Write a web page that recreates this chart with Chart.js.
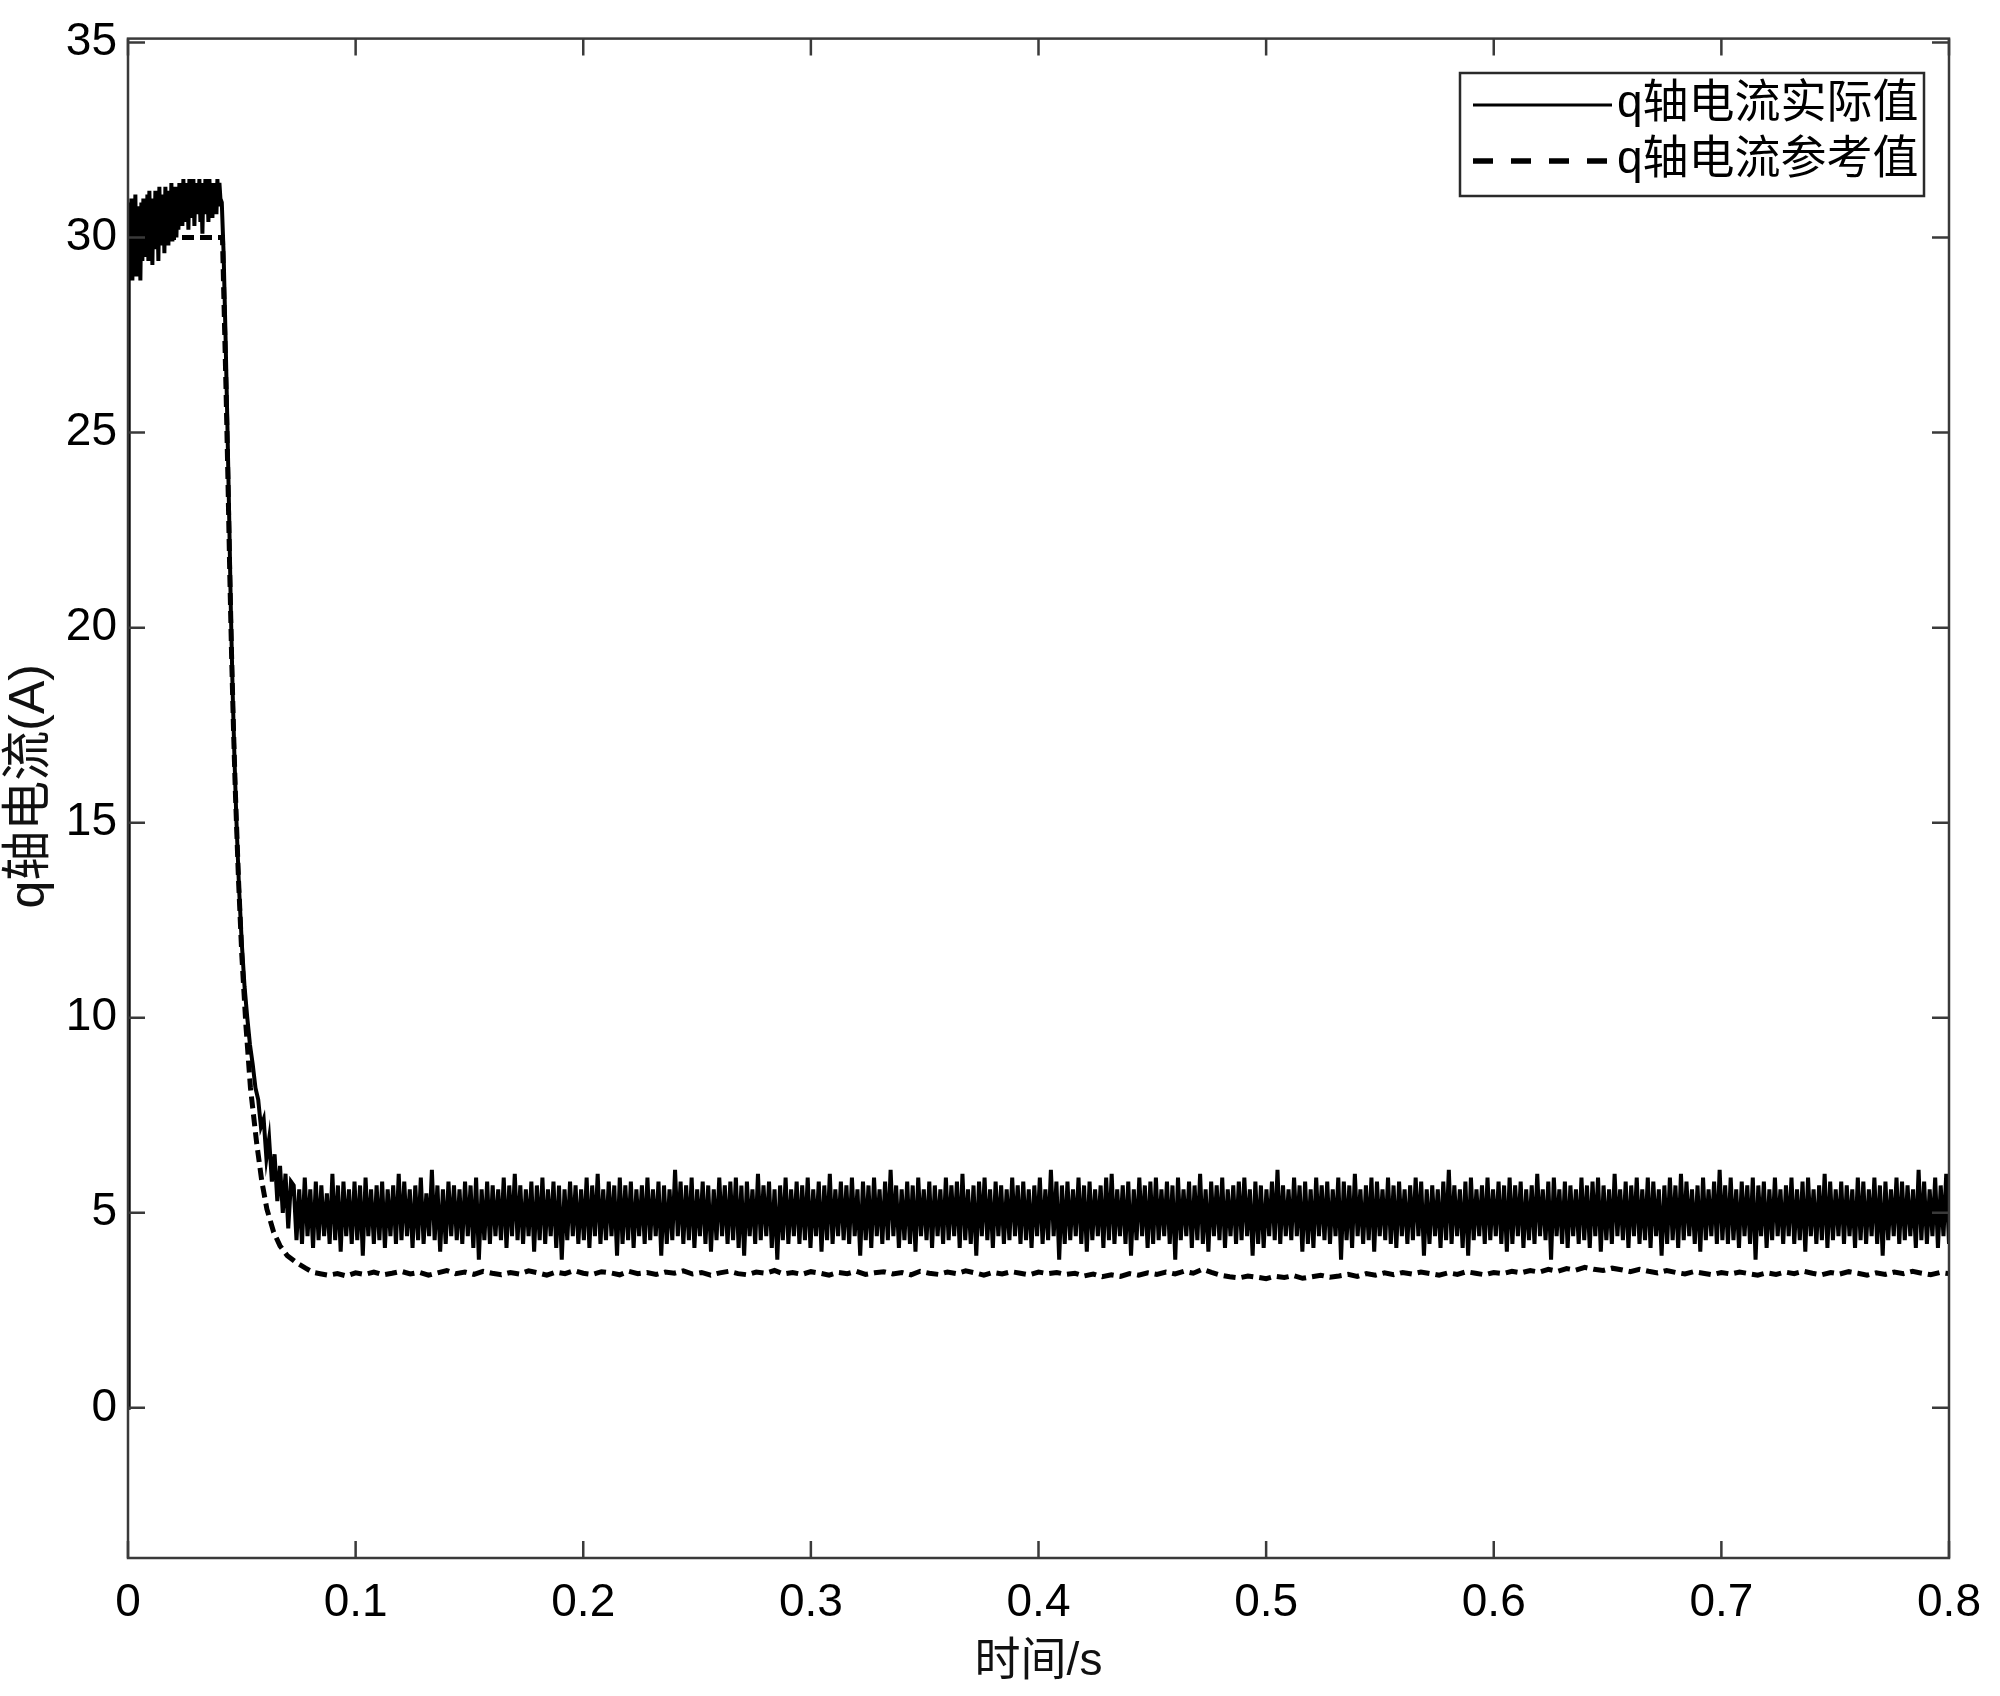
<!DOCTYPE html>
<html><head><meta charset="utf-8">
<script src="https://cdn.jsdelivr.net/npm/chart.js@4.4.1/dist/chart.umd.min.js"></script>
<style>html,body{margin:0;padding:0;background:#fff}#wrap{width:2000px;height:1696px;background:#fff}</style>
</head><body><div id="wrap"><canvas id="c" width="2000" height="1696"></canvas></div>
<script>
// ---------- tick values / labels ----------
const xTickValues = [0, 0.1, 0.2, 0.3, 0.4, 0.5, 0.6, 0.7, 0.8];
const xTickLabels = ['0', '0.1', '0.2', '0.3', '0.4', '0.5', '0.6', '0.7', '0.8'];
const yTickValues = [0, 5, 10, 15, 20, 25, 30, 35];
const yTickLabels = ['0', '5', '10', '15', '20', '25', '30', '35'];
const seriesNames = ['q轴电流实际值', 'q轴电流参考值'];
const xTitle = '时间/s';
const yTitle = 'q轴电流(A)';

// ---------- actual q-axis current (solid) ----------
const actualStartT = [0, 0.0003];
const actualStartV = [0, 29.6];
const actualPlateauRange = [0.0006, 0.0406];
const actualPlateauV = [
  30.9,29.1,31.0,28.9,30.7,29.3,31.1,29.0,30.8,29.5,30.6,28.9,30.9,29.4,31.0,29.6,
  30.8,29.5,31.1,29.4,31.2,29.8,30.9,29.3,31.0,29.7,31.2,29.9,30.8,29.4,31.3,29.8,31.1,30.0,31.0,29.6,
  31.3,30.1,30.9,29.8,31.2,30.2,31.4,29.9,31.1,30.3,31.3,30.0,31.0,30.2,31.4,30.4,
  31.2,30.3,31.5,30.4,31.3,30.6,31.4,30.2,31.5,30.5,31.2,30.7,31.5,30.3,31.4,30.6,31.3,30.8,31.5,30.4,
  31.2,30.1,31.4,30.6,31.5,30.7,31.3,30.4,31.5,30.8,31.2,30.5,31.4,30.7,31.3,30.6,31.5,30.8,31.4,31.0
];
const actualDropT = [0.0412,0.0420,0.0428,0.0436,0.0444,0.0452,0.0460,0.0468,0.0476,0.0488,0.0500,0.0512,0.0524,0.0536,0.0548,0.0560,0.0572,0.0584,0.0596,0.0608,0.0620,0.0632,0.0644,0.0656,0.0668,0.0680,0.0692,0.0704,0.0716];
const actualDropV = [30.9,29.6,27.6,25.4,23.0,20.4,18.3,16.6,15.1,13.3,11.9,10.8,10.0,9.3,8.8,8.2,7.9,7.2,7.4,6.4,6.9,5.8,6.5,5.3,6.2,5.0,6.0,4.6,5.8];
const actualSteadyRange = [0.0728, 0.8];
const actualSteadyV = [
  5.7,4.3,5.6,4.2,5.9,4.4,5.6,4.1,5.8,4.3,5.7,4.4,5.5,4.2,6.0,4.3,5.7,4.0,5.8,4.4,
  5.6,4.2,5.8,4.3,5.7,3.9,5.9,4.4,5.6,4.2,5.7,4.3,5.8,4.1,5.6,4.4,5.7,4.2,6.0,4.3,
  5.8,4.4,5.6,4.1,5.7,4.3,5.9,4.2,5.5,4.4,6.1,4.3,5.7,4.0,5.6,4.2,5.8,4.4,5.7,4.3,
  5.6,4.2,5.8,4.4,5.7,4.1,5.9,3.8,5.6,4.3,5.8,4.2,5.7,4.4,5.6,4.3,5.9,4.1,5.7,4.4,
  6.0,4.3,5.7,4.2,5.6,4.4,5.8,4.0,5.7,4.3,5.9,4.2,5.6,4.4,5.8,4.1,5.7,3.8,5.6,4.3,
  5.8,4.4,5.7,4.2,5.6,4.3,5.9,4.1,5.7,4.4,6.0,4.2,5.6,4.3,5.8,4.4,5.7,3.9,5.9,4.2,
  5.7,4.3,5.8,4.1,5.6,4.4,5.7,4.2,5.9,4.3,5.6,4.4,5.8,3.9,5.7,4.2,5.6,4.3,6.1,4.4,
  5.8,4.2,5.7,4.3,5.9,4.1,5.6,4.4,5.8,4.2,5.7,4.0,5.6,4.3,5.9,4.4,5.7,4.2,5.8,4.3,
  5.9,4.1,5.7,3.9,5.8,4.4,5.6,4.2,6.0,4.3,5.7,4.4,5.8,4.1,5.6,3.8,5.7,4.3,5.9,4.2,
  5.6,4.4,5.8,4.2,5.7,4.3,5.9,4.1,5.6,4.4,5.8,4.0,5.7,4.3,6.0,4.2,5.6,4.4,5.8,4.3,
  5.7,4.2,5.9,4.4,5.6,3.9,5.8,4.3,5.7,4.1,5.9,4.4,5.6,4.2,5.8,4.3,6.1,4.4,5.7,4.1,
  5.6,4.3,5.8,4.2,5.7,4.0,5.9,4.4,5.6,4.3,5.8,4.1,5.7,4.4,5.6,4.2,5.9,4.3,5.7,4.4,
  5.8,4.1,6.0,4.3,5.6,4.2,5.7,3.9,5.8,4.4,5.9,4.3,5.6,4.1,5.8,4.4,5.7,4.2,5.6,4.3,
  5.9,4.4,5.7,4.2,5.8,4.3,5.6,4.1,5.7,4.4,5.9,4.2,5.6,4.3,6.1,4.4,5.8,3.8,5.7,4.2,
  5.8,4.3,5.6,4.4,5.9,4.2,5.7,4.0,5.8,4.3,5.6,4.4,5.7,4.1,5.9,4.3,6.0,4.2,5.6,4.4,
  5.7,4.2,5.8,3.9,5.6,4.3,5.9,4.4,5.7,4.1,5.8,4.2,5.9,4.3,5.6,4.4,5.8,4.2,5.7,3.8,
  5.9,4.3,5.6,4.4,5.8,4.1,5.7,4.3,6.0,4.2,5.6,4.0,5.8,4.4,5.7,4.3,5.9,4.1,5.6,4.4,
  5.7,4.2,5.8,4.3,5.9,4.4,5.6,3.9,5.8,4.2,5.7,4.1,5.6,4.4,5.8,4.3,6.1,4.2,5.7,4.4,
  5.6,4.3,5.9,4.4,5.7,4.0,5.8,4.2,5.6,4.1,5.9,4.4,5.7,4.3,5.8,4.2,5.6,4.4,5.9,3.8,
  5.8,4.3,5.7,4.1,6.0,4.4,5.6,4.2,5.7,4.3,5.9,4.0,5.8,4.4,5.6,4.3,5.9,4.2,5.7,4.1,
  5.8,4.4,5.6,4.2,5.7,4.3,5.9,4.4,5.8,3.9,5.6,4.2,5.7,4.4,5.6,4.1,5.8,4.3,6.1,4.2,
  5.7,4.4,5.6,4.1,5.8,3.9,5.9,4.3,5.6,4.4,5.7,4.2,5.9,4.3,5.6,4.4,5.8,4.2,5.7,4.0,
  5.9,4.2,5.7,4.4,5.8,4.1,5.6,4.3,5.7,4.2,6.0,4.4,5.6,4.3,5.8,3.8,5.9,4.4,5.6,4.2,
  5.8,4.1,5.7,4.4,5.6,4.2,5.9,4.3,5.7,4.1,5.8,4.4,5.9,4.0,5.7,4.3,5.6,4.2,6.0,4.4,
  5.6,4.3,5.8,4.1,5.7,4.4,5.9,4.2,5.6,4.3,5.9,4.1,5.8,4.4,5.6,3.9,5.7,4.2,5.9,4.3,
  5.7,4.1,6.0,4.3,5.8,4.4,5.6,4.2,5.7,4.0,5.9,4.3,5.6,4.4,5.8,4.2,6.1,4.3,5.7,4.2,
  5.9,4.3,5.6,4.1,5.8,4.4,5.7,4.2,5.9,3.8,5.7,4.4,5.8,4.1,5.6,4.3,5.9,4.4,5.6,4.2,
  5.7,4.4,5.9,4.2,5.6,4.3,5.8,4.0,5.9,4.4,5.6,4.2,5.7,4.3,6.0,4.1,5.8,4.3,5.6,4.4,
  5.8,4.2,5.7,4.4,5.6,4.1,5.9,4.3,5.8,4.2,5.6,4.4,5.9,4.2,5.7,3.9,5.8,4.3,5.6,4.4,
  5.9,4.2,5.8,4.3,5.7,4.4,5.6,4.1,6.1,4.3,5.8,4.2,5.6,4.4,5.9,4.1,5.7,4.4,6.0,4.2
];

// ---------- reference q-axis current (dashed) ----------
const refStartT = [0, 0.0415];
const refStartV = [30, 30];
const refDropT = [0.0423,0.0431,0.0439,0.0447,0.0455,0.0463,0.0471,0.0485,0.0500,0.0518,0.0538,0.0565,0.0588,0.0610,0.0640,0.0668,0.0700,0.0740,0.0780,0.0814,0.0850];
const refDropV = [28.0,26.0,23.8,21.4,19.3,17.5,15.9,13.6,11.6,9.8,8.2,6.8,5.8,5.1,4.5,4.15,3.9,3.72,3.58,3.47,3.43];
const refSteadyRange = [0.088, 0.8];
const refSteadyV = [
  3.40,3.44,3.38,3.46,3.42,3.48,3.41,3.45,3.50,3.43,3.47,3.40,3.46,3.52,3.44,3.48,3.42,3.50,3.45,3.41,
  3.47,3.43,3.51,3.46,3.40,3.48,3.44,3.52,3.45,3.42,3.49,3.46,3.41,3.50,3.44,3.47,3.42,3.48,3.45,3.51,
  3.43,3.47,3.40,3.46,3.50,3.44,3.41,3.48,3.45,3.52,3.43,3.47,3.42,3.49,3.45,3.40,3.47,3.44,3.50,3.42,
  3.46,3.49,3.43,3.47,3.41,3.50,3.45,3.42,3.48,3.44,3.51,3.46,3.40,3.47,3.43,3.49,3.45,3.41,3.48,3.44,
  3.47,3.42,3.45,3.38,3.43,3.36,3.41,3.37,3.44,3.40,3.46,3.42,3.48,3.43,3.50,3.45,3.55,3.47,3.40,3.36,
  3.33,3.38,3.35,3.31,3.37,3.34,3.39,3.32,3.36,3.40,3.35,3.38,3.42,3.37,3.44,3.40,3.46,3.41,3.47,3.43,
  3.48,3.44,3.40,3.46,3.42,3.49,3.45,3.41,3.47,3.44,3.50,3.46,3.52,3.48,3.55,3.50,3.57,3.53,3.60,3.55,
  3.52,3.58,3.54,3.49,3.55,3.50,3.46,3.52,3.47,3.43,3.49,3.45,3.41,3.47,3.43,3.48,3.44,3.40,3.46,3.42,
  3.48,3.44,3.50,3.45,3.41,3.47,3.43,3.49,3.45,3.40,3.46,3.42,3.48,3.44,3.50,3.45,3.41,3.47,3.44
];

// ---------- assemble points ----------
function pairs(ts, vs) { return ts.map((t, i) => ({ x: t, y: vs[i] })); }
function sampled(range, vs) {
  const n = vs.length;
  return vs.map((v, i) => ({ x: range[0] + (range[1] - range[0]) * i / (n - 1), y: v }));
}
const actualPts = [].concat(
  pairs(actualStartT, actualStartV),
  sampled(actualPlateauRange, actualPlateauV),
  pairs(actualDropT, actualDropV),
  sampled(actualSteadyRange, actualSteadyV)
);
const refPts = [].concat(
  pairs(refStartT, refStartV),
  pairs(refDropT, refDropV),
  sampled(refSteadyRange, refSteadyV)
);

const FONT = '"Liberation Sans", Arial, "Noto Sans CJK SC", sans-serif';
const AXIS_COLOR = '#3a3a3a';

const framePlugin = {
  id: 'frame',
  afterDatasetsDraw(chart) {
    const { ctx, chartArea: a, scales: { x, y } } = chart;
    ctx.save();
    ctx.strokeStyle = AXIS_COLOR;
    ctx.lineWidth = 2.5;
    ctx.strokeRect(a.left, a.top, a.right - a.left, a.bottom - a.top);
    const L = 17;
    ctx.beginPath();
    xTickValues.forEach(v => {
      const px = x.getPixelForValue(v);
      ctx.moveTo(px, a.bottom); ctx.lineTo(px, a.bottom - L);
      ctx.moveTo(px, a.top); ctx.lineTo(px, a.top + L);
    });
    yTickValues.forEach(v => {
      const py = y.getPixelForValue(v);
      ctx.moveTo(a.left, py); ctx.lineTo(a.left + L, py);
      ctx.moveTo(a.right, py); ctx.lineTo(a.right - L, py);
    });
    ctx.stroke();

    // y-axis title
    ctx.save();
    ctx.translate(30, (a.top + a.bottom) / 2 - 12);
    ctx.rotate(-Math.PI / 2);
    ctx.fillStyle = '#111';
    ctx.font = '50px ' + FONT;
    ctx.textAlign = 'center';
    ctx.textBaseline = 'middle';
    ctx.fillText(yTitle, 0, 0);
    ctx.restore();

    // legend box
    const bx = 1460, by = 73, bw = 464, bh = 123;
    ctx.fillStyle = '#fff';
    ctx.fillRect(bx, by, bw, bh);
    ctx.strokeStyle = '#2a2a2a';
    ctx.lineWidth = 2.5;
    ctx.strokeRect(bx, by, bw, bh);
    const rows = [105, 161];
    const ds = chart.data.datasets;
    ds.forEach((d, i) => {
      ctx.beginPath();
      ctx.strokeStyle = '#000';
      if (i === 0) { ctx.setLineDash([]); ctx.lineWidth = 3; }
      else { ctx.setLineDash([20, 18]); ctx.lineWidth = 5.5; }
      ctx.moveTo(1473, rows[i]); ctx.lineTo(1612, rows[i]);
      ctx.stroke();
      ctx.setLineDash([]);
      ctx.fillStyle = '#000';
      ctx.font = '46px ' + FONT;
      ctx.textAlign = 'left';
      ctx.textBaseline = 'middle';
      ctx.fillText(d.label, 1617, rows[i] - 1);
    });
    ctx.restore();
  }
};

new Chart(document.getElementById('c').getContext('2d'), {
  type: 'line',
  data: {
    datasets: [
      { label: seriesNames[0], data: actualPts, borderColor: '#000', borderWidth: 4, borderJoinStyle: 'miter', pointRadius: 0, tension: 0, fill: false, order: 0 },
      { label: seriesNames[1], data: refPts, borderColor: '#000', borderWidth: 5, borderDash: [12, 6], pointRadius: 0, tension: 0, fill: false, order: 1 }
    ]
  },
  options: {
    responsive: false,
    devicePixelRatio: 1,
    animation: false,
    events: [],
    layout: { padding: { left: 0, right: 51, top: 34, bottom: 0 } },
    plugins: { legend: { display: false }, tooltip: { enabled: false } },
    scales: {
      x: {
        type: 'linear', min: 0, max: 0.8,
        afterBuildTicks: s => { s.ticks = xTickValues.map(v => ({ value: v })); },
        afterFit: s => { s.height = 138; },
        ticks: { callback: (v, i) => xTickLabels[i], font: { family: FONT, size: 46 }, color: '#000', padding: 18, maxRotation: 0, autoSkip: false, includeBounds: false },
        grid: { display: false, drawTicks: false },
        border: { display: false },
        title: { display: true, text: xTitle, font: { family: FONT, size: 46 }, color: '#111', padding: { top: 0, bottom: 6 } }
      },
      y: {
        type: 'linear', min: -3.85, max: 35.1,
        afterBuildTicks: s => { s.ticks = yTickValues.map(v => ({ value: v })); },
        afterFit: s => { s.width = 128; },
        ticks: { callback: (v, i) => yTickLabels[i], font: { family: FONT, size: 46 }, color: '#000', padding: 11, autoSkip: false, includeBounds: false },
        grid: { display: false, drawTicks: false },
        border: { display: false },
        title: { display: false }
      }
    }
  },
  plugins: [framePlugin]
});
</script>
</body></html>
